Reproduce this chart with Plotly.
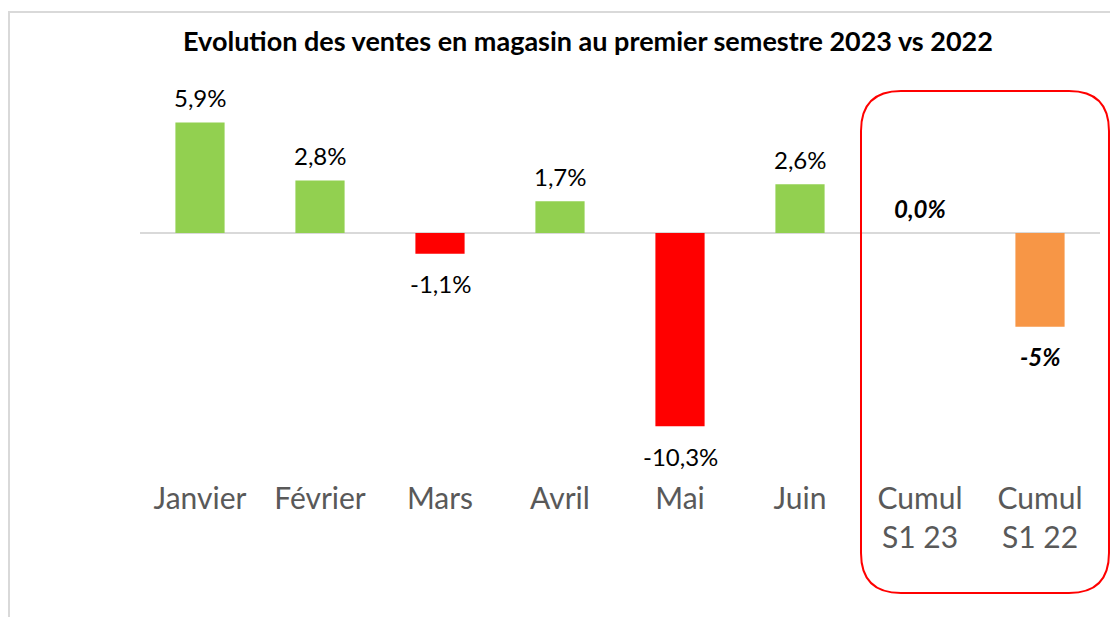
import plotly.graph_objects as go

# ---- data ----
categories = ["Janvier", "Février", "Mars", "Avril", "Mai", "Juin", "Cumul<br>S1 23", "Cumul<br>S1 22"]
values = [5.9, 2.8, -1.1, 1.7, -10.3, 2.6, 0.0, -5.0]
labels = ["5,9%", "2,8%", "-1,1%", "1,7%", "-10,3%", "2,6%", "0,0%", "-5%"]
bar_colors = ["#92D050", "#92D050", "#FF0000", "#92D050", "#FF0000", "#92D050", "#92D050", "#F79646"]
label_bold_italic = [False, False, False, False, False, False, True, True]
title_text = "Evolution des ventes en magasin au premier semestre 2023 vs 2022"

# ---- layout geometry (pixels) ----
W, H = 1110, 617
L, R, T, B = 140, 10, 80, 139
PLOT_B = H - B
ZERO_PX = 233
PX_PER_UNIT = 18.75
y_top = (ZERO_PX - T) / PX_PER_UNIT
y_bot = -(PLOT_B - ZERO_PX) / PX_PER_UNIT
PW = W - L - R
PH = PLOT_B - T


def px_x(px):
    return (px - L) / PW


def px_y(py):
    return (PLOT_B - py) / PH


FONT = "Lato"

fig = go.Figure()
fig.add_trace(go.Bar(
    x=categories, y=values,
    marker=dict(color=bar_colors, line=dict(width=0)),
    hoverinfo="skip",
))

annotations = []
for cat, v, lab, bi in zip(categories, values, labels, label_bold_italic):
    shift = 25 if v >= 0 else -30
    txt = f"<b><i>{lab}</i></b>" if bi else lab
    annotations.append(dict(
        x=cat, y=v, xref="x", yref="y", text=txt, showarrow=False,
        yanchor="middle", xanchor="center", yshift=shift,
        font=dict(family=FONT, size=24, color="#000000"),
    ))

# rounded red rectangle around cumulative bars
x0, x1, y0, y1, r = 861, 1109, 91, 593, 40
pts = [
    ("M", [(x0 + r, y0)]),
    ("L", [(x1 - r, y0)]),
    ("Q", [(x1, y0), (x1, y0 + r)]),
    ("L", [(x1, y1 - r)]),
    ("Q", [(x1, y1), (x1 - r, y1)]),
    ("L", [(x0 + r, y1)]),
    ("Q", [(x0, y1), (x0, y1 - r)]),
    ("L", [(x0, y0 + r)]),
    ("Q", [(x0, y0), (x0 + r, y0)]),
]
path = ""
for cmd, ps in pts:
    path += cmd + " " + " ".join(f"{px_x(a):.5f},{px_y(b):.5f}" for a, b in ps) + " "
path += "Z"

shapes = [
    dict(type="rect", xref="paper", yref="paper",
         x0=px_x(9), x1=px_x(1125), y0=px_y(12), y1=px_y(640),
         line=dict(color="#D9D9D9", width=2), fillcolor="rgba(0,0,0,0)", layer="below"),
    dict(type="path", xref="paper", yref="paper", path=path,
         line=dict(color="#FF0000", width=2), fillcolor="rgba(0,0,0,0)"),
]

fig.update_layout(
    width=W, height=H,
    margin=dict(l=L, r=R, t=T, b=B, pad=0),
    paper_bgcolor="white", plot_bgcolor="white",
    showlegend=False,
    bargap=0.59,
    title=dict(text=f"<b>{title_text}</b>", x=588 / W, xanchor="center",
               y=1 - 42 / H, yanchor="middle", yref="container",
               font=dict(family=FONT, size=27, color="#000000")),
    xaxis=dict(showgrid=False, showline=False, ticks="", zeroline=False,
               tickfont=dict(family=FONT, size=30, color="#595959")),
    yaxis=dict(range=[y_bot, y_top], showgrid=False, showline=False, ticks="",
               showticklabels=False, zeroline=True, zerolinecolor="#D9D9D9", zerolinewidth=2),
    annotations=annotations,
    shapes=shapes,
)

fig.write_html("out.html")
